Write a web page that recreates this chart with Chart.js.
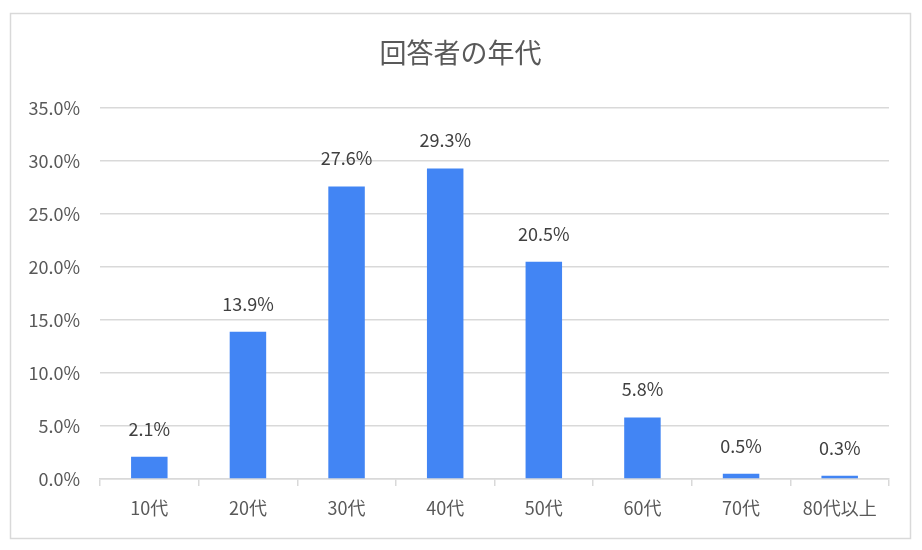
<!DOCTYPE html>
<html>
<head>
<meta charset="utf-8">
<script src="https://cdn.jsdelivr.net/npm/chart.js@4"></script>
<style>
  html, body { margin: 0; padding: 0; background: #fff; }
  #wrap { width: 922px; height: 550px; position: relative; }
</style>
</head>
<body>
<div id="wrap"><canvas id="chart-age"></canvas></div>
<script>
const CATEGORIES = ['10代', '20代', '30代', '40代', '50代', '60代', '70代', '80代以上'];
const VALUES = [2.1, 13.9, 27.6, 29.3, 20.5, 5.8, 0.5, 0.3];
const TITLE = '回答者の年代';

const FONT = "'Noto Sans CJK JP', 'Noto Sans', sans-serif";
const BAR_COLOR = '#4285F4';
const GRID_COLOR = '#d9d9d9';

// frame around the whole chart + centred title
const framePlugin = {
  id: 'frame',
  beforeDraw(chart) {
    const ctx = chart.ctx;
    ctx.save();
    ctx.strokeStyle = GRID_COLOR;
    ctx.lineWidth = 1.5;
    ctx.strokeRect(10.5, 13.5, 900, 525);
    ctx.font = '27px ' + FONT;
    ctx.fillStyle = '#595959';
    ctx.textAlign = 'center';
    ctx.textBaseline = 'middle';
    ctx.fillText(TITLE, 460.5, 53);
    ctx.restore();
  },
};

// value labels above bars
const valueLabels = {
  id: 'valueLabels',
  afterDatasetsDraw(chart) {
    const ctx = chart.ctx;
    const meta = chart.getDatasetMeta(0);
    ctx.save();
    ctx.font = '18px ' + FONT;
    ctx.fillStyle = '#404040';
    ctx.textAlign = 'center';
    ctx.textBaseline = 'middle';
    meta.data.forEach((bar, i) => {
      ctx.fillText(VALUES[i].toFixed(1) + '%', bar.x, bar.y - 28);
    });
    ctx.restore();
  },
};

new Chart(document.getElementById('chart-age'), {
  type: 'bar',
  data: {
    labels: CATEGORIES,
    datasets: [{
      data: VALUES,
      backgroundColor: BAR_COLOR,
      borderWidth: 0,
      categoryPercentage: 1,
      barPercentage: 0.37,
    }],
  },
  options: {
    responsive: true,
    maintainAspectRatio: false,
    animation: false,
    layout: { padding: { left: 0, right: 33, top: 108, bottom: 0 } },
    plugins: {
      legend: { display: false },
      tooltip: { enabled: false },
      title: { display: false },
    },
    scales: {
      y: {
        min: 0,
        max: 35,
        afterFit: s => { s.width = 100; },
        ticks: {
          stepSize: 5,
          padding: 20,
          color: '#595959',
          font: { family: FONT, size: 18 },
          callback: v => v.toFixed(1) + '%',
        },
        grid: { color: GRID_COLOR, lineWidth: 1.5, drawTicks: false },
        border: { display: false },
      },
      x: {
        afterFit: s => { s.height = 71; },
        ticks: {
          padding: 11,
          color: '#595959',
          font: { family: FONT, size: 18 },
        },
        grid: {
          offset: true,
          drawOnChartArea: false,
          color: GRID_COLOR,
          lineWidth: 1.5,
          tickLength: 7,
        },
        border: { color: GRID_COLOR, width: 1.5 },
      },
    },
  },
  plugins: [framePlugin, valueLabels],
});
</script>
</body>
</html>
